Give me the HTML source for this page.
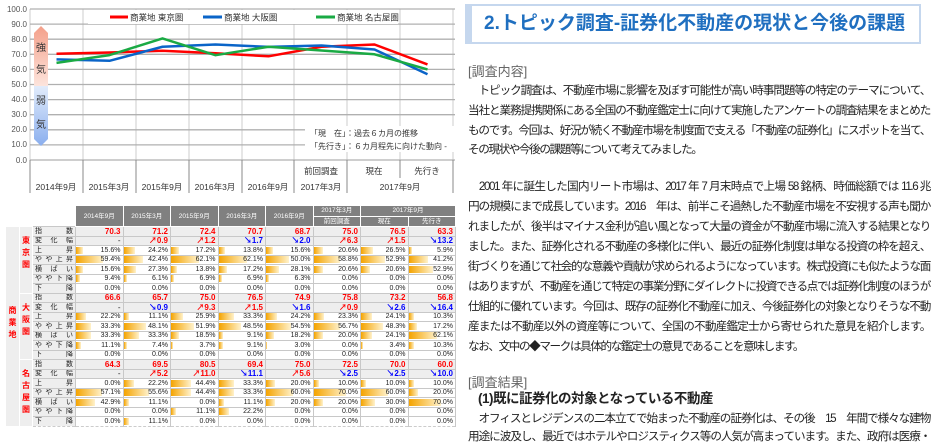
<!DOCTYPE html>
<html><head><meta charset="utf-8">
<style>
*{margin:0;padding:0;box-sizing:border-box}
body{width:940px;height:434px;overflow:hidden;background:#fff;position:relative;font-family:"Liberation Sans","Noto Sans CJK JP",sans-serif}
#chart{position:absolute;left:0;top:0}
table{position:absolute;left:5px;top:205px;width:450px;border-collapse:collapse;table-layout:fixed;font-size:7px;color:#222}
td{height:9.5px;border:1px solid #c8c8c8;padding:0 2px;text-align:right;line-height:7px;white-space:nowrap;overflow:hidden}
td.h{background:#808080;color:#fff;text-align:center;border:1px solid #fff;height:10.5px;font-size:6.5px}
td.g{background:#7a7a7a;color:#fff;text-align:center;border:1px solid #fff;font-size:10px;line-height:12px;font-weight:bold;white-space:normal;vertical-align:top;padding-top:4px}
td.l{text-align:justify;text-align-last:justify;font-size:7px;background:#eee;padding:0 2px}
tr.i td{background:#eee;color:#f00;font-weight:bold;font-size:8px}
tr.c td{background:#eee;font-weight:bold;font-size:8px}
tr.i td.l,tr.c td.l{color:#222;font-weight:normal;font-size:7px}
tr.p td{border-bottom:1px dashed #ccc}
td.b{background:linear-gradient(90deg,#f4a300,#fff2cc) no-repeat left center;background-size:var(--w) 7px}
.u{color:#f00}.d{color:#00f}
col.dc{width:47.5px}
.tx{position:absolute;left:468px;width:462px;font-size:11.6px;letter-spacing:-1.4px;color:#222;white-space:nowrap;line-height:14px}
.j{text-align:justify;text-align-last:justify}
</style></head><body>
<svg id="chart" width="460" height="200" font-family="Liberation Sans, Noto Sans CJK JP, sans-serif">
<defs>
<linearGradient id="pk" x1="0" y1="0" x2="0" y2="1"><stop offset="0" stop-color="#f4a08a"/><stop offset="1" stop-color="#fde4dc"/></linearGradient>
<linearGradient id="bl" x1="0" y1="0" x2="0" y2="1"><stop offset="0" stop-color="#e2ecfb"/><stop offset="1" stop-color="#8aaeee"/></linearGradient>
</defs>
<g stroke="#ddd" stroke-width="1.5">
<line x1="30" y1="9" x2="30" y2="160"/><line x1="83" y1="9" x2="83" y2="160"/><line x1="136" y1="9" x2="136" y2="160"/><line x1="189" y1="9" x2="189" y2="160"/><line x1="242" y1="9" x2="242" y2="160"/><line x1="294" y1="9" x2="294" y2="160"/><line x1="347" y1="9" x2="347" y2="160"/><line x1="400" y1="9" x2="400" y2="160"/><line x1="453" y1="9" x2="453" y2="160"/>
</g>
<g stroke="#b0b0b0" stroke-width="1.3">
<line x1="30" y1="9" x2="455" y2="9"/><line x1="30" y1="24.1" x2="455" y2="24.1"/><line x1="30" y1="39.2" x2="455" y2="39.2"/><line x1="30" y1="54.3" x2="455" y2="54.3"/><line x1="30" y1="69.4" x2="455" y2="69.4"/><line x1="30" y1="84.5" x2="455" y2="84.5"/><line x1="30" y1="99.6" x2="455" y2="99.6"/><line x1="30" y1="114.7" x2="455" y2="114.7"/><line x1="30" y1="129.8" x2="455" y2="129.8"/><line x1="30" y1="144.9" x2="455" y2="144.9"/><line x1="30" y1="160" x2="455" y2="160"/>
</g>
<g stroke="#888" stroke-width="1">
<line x1="30" y1="160" x2="30" y2="193"/><line x1="83" y1="160" x2="83" y2="193"/><line x1="136" y1="160" x2="136" y2="193"/><line x1="189" y1="160" x2="189" y2="193"/><line x1="242" y1="160" x2="242" y2="193"/><line x1="294" y1="160" x2="294" y2="193"/><line x1="347" y1="160" x2="347" y2="193"/><line x1="400" y1="160" x2="400" y2="178"/><line x1="453" y1="160" x2="453" y2="193"/>
</g>
<g font-size="8" fill="#555" text-anchor="end">
<text x="27" y="12">100.0</text><text x="27" y="27">90.0</text><text x="27" y="42">80.0</text><text x="27" y="57">70.0</text><text x="27" y="72">60.0</text><text x="27" y="87">50.0</text><text x="27" y="102">40.0</text><text x="27" y="117">30.0</text><text x="27" y="132">20.0</text><text x="27" y="147">10.0</text><text x="27" y="163">0.0</text>
</g>
<polygon points="34,33 41,26 48,33 48,86 34,86" fill="url(#pk)"/>
<polygon points="34,86 48,86 48,139 41,146 34,139" fill="url(#bl)"/>
<g font-size="10" fill="#333" text-anchor="middle"><text x="41" y="51">強</text><text x="41" y="73">気</text><text x="41" y="104">弱</text><text x="41" y="128">気</text></g>
<rect x="88" y="10" width="310" height="14" fill="#fff"/>
<line x1="110" y1="17" x2="128" y2="17" stroke="#f00" stroke-width="3"/>
<line x1="203" y1="17" x2="222" y2="17" stroke="#0a64c8" stroke-width="3"/>
<line x1="316" y1="17" x2="335" y2="17" stroke="#1aaa44" stroke-width="3"/>
<g font-size="8.5" fill="#333"><text x="130" y="20.5">商業地 東京圏</text><text x="224" y="20.5">商業地 大阪圏</text><text x="337" y="20.5">商業地 名古屋圏</text></g>
<rect x="305" y="126" width="150" height="26" fill="#fff"/>
<g font-size="8" fill="#333"><text x="310" y="136">「現　在」：過去６カ月の推移</text><text x="310" y="149">「先行き」：６カ月程先に向けた動向 -</text></g>
<g fill="none" stroke-width="2.5" stroke-linejoin="round">
<polyline stroke="#f00" points="56.5,53.8 109.5,52.5 162.5,50.7 215.5,53.2 268.5,56.3 321.5,46.75 374.5,44.5 427.5,64.4"/>
<polyline stroke="#0a64c8" points="56.5,59.4 109.5,60.8 162.5,46.75 215.5,44.5 268.5,46.9 321.5,45.5 374.5,49.5 427.5,74.2"/>
<polyline stroke="#1aaa44" points="56.5,62.9 109.5,55.1 162.5,38.4 215.5,55.2 268.5,46.75 321.5,50.5 374.5,54.3 427.5,69.4"/>
</g>
<g font-size="8.5" fill="#333" text-anchor="middle">
<text x="321" y="174">前回調査</text><text x="374" y="174">現在</text><text x="427" y="174">先行き</text>
<text x="56" y="190">2014年9月</text><text x="109" y="190">2015年3月</text><text x="162" y="190">2015年9月</text><text x="215" y="190">2016年3月</text><text x="268" y="190">2016年9月</text><text x="321" y="190">2017年3月</text><text x="400" y="190">2017年9月</text>
</g>
</svg>

<table>
<colgroup><col style="width:14px"><col style="width:13px"><col style="width:43px"><col class="dc"><col class="dc"><col class="dc"><col class="dc"><col class="dc"><col class="dc"><col class="dc"><col class="dc"></colgroup>
<tr><td colspan="3" rowspan="2" style="border:none;height:21px"></td><td class="h" rowspan="2">2014年9月</td><td class="h" rowspan="2">2015年3月</td><td class="h" rowspan="2">2015年9月</td><td class="h" rowspan="2">2016年3月</td><td class="h" rowspan="2">2016年9月</td><td class="h">2017年3月</td><td class="h" colspan="2">2017年9月</td></tr>
<tr><td class="h">前回調査</td><td class="h">現在</td><td class="h">先行き</td></tr>

<tr class="i"><td class="g" rowspan="21" style="padding-top:78px">商業地</td><td class="g" rowspan="7" style="padding-top:8px">東京圏</td><td class="l">指　数</td><td>70.3</td><td>71.2</td><td>72.4</td><td>70.7</td><td>68.7</td><td>75.0</td><td>76.5</td><td>63.3</td></tr>
<tr class="c"><td class="l">変化幅</td><td style="font-weight:normal">-</td><td class="u">↗0.9</td><td class="u">↗1.2</td><td class="d">↘1.7</td><td class="d">↘2.0</td><td class="u">↗6.3</td><td class="u">↗1.5</td><td class="d">↘13.2</td></tr>
<tr class="p"><td class="l">上　昇</td><td class="b" style="--w:7px">15.6%</td><td class="b" style="--w:11px">24.2%</td><td class="b" style="--w:8px">17.2%</td><td class="b" style="--w:6px">13.8%</td><td class="b" style="--w:7px">15.6%</td><td class="b" style="--w:9px">20.6%</td><td class="b" style="--w:12px">26.5%</td><td class="b" style="--w:3px">5.9%</td></tr>
<tr class="p"><td class="l">やや上昇</td><td class="b" style="--w:27px">59.4%</td><td class="b" style="--w:19px">42.4%</td><td class="b" style="--w:28px">62.1%</td><td class="b" style="--w:28px">62.1%</td><td class="b" style="--w:23px">50.0%</td><td class="b" style="--w:26px">58.8%</td><td class="b" style="--w:24px">52.9%</td><td class="b" style="--w:19px">41.2%</td></tr>
<tr class="p"><td class="l">横ばい</td><td class="b" style="--w:7px">15.6%</td><td class="b" style="--w:12px">27.3%</td><td class="b" style="--w:6px">13.8%</td><td class="b" style="--w:8px">17.2%</td><td class="b" style="--w:13px">28.1%</td><td class="b" style="--w:9px">20.6%</td><td class="b" style="--w:9px">20.6%</td><td class="b" style="--w:24px">52.9%</td></tr>
<tr class="p"><td class="l">やや下降</td><td class="b" style="--w:4px">9.4%</td><td class="b" style="--w:3px">6.1%</td><td class="b" style="--w:3px">6.9%</td><td class="b" style="--w:3px">6.9%</td><td class="b" style="--w:3px">6.3%</td><td>0.0%</td><td>0.0%</td><td>0.0%</td></tr>
<tr class="p"><td class="l">下　降</td><td>0.0%</td><td>0.0%</td><td>0.0%</td><td>0.0%</td><td>0.0%</td><td>0.0%</td><td>0.0%</td><td>0.0%</td></tr>

<tr class="i"><td class="g" rowspan="7" style="padding-top:8px">大阪圏</td><td class="l">指　数</td><td>66.6</td><td>65.7</td><td>75.0</td><td>76.5</td><td>74.9</td><td>75.8</td><td>73.2</td><td>56.8</td></tr>
<tr class="c"><td class="l">変化幅</td><td style="font-weight:normal">-</td><td class="d">↘0.9</td><td class="u">↗9.3</td><td class="u">↗1.5</td><td class="d">↘1.6</td><td class="u">↗0.9</td><td class="d">↘2.6</td><td class="d">↘16.4</td></tr>
<tr class="p"><td class="l">上　昇</td><td class="b" style="--w:10px">22.2%</td><td class="b" style="--w:5px">11.1%</td><td class="b" style="--w:12px">25.9%</td><td class="b" style="--w:15px">33.3%</td><td class="b" style="--w:11px">24.2%</td><td class="b" style="--w:10px">23.3%</td><td class="b" style="--w:11px">24.1%</td><td class="b" style="--w:5px">10.3%</td></tr>
<tr class="p"><td class="l">やや上昇</td><td class="b" style="--w:15px">33.3%</td><td class="b" style="--w:22px">48.1%</td><td class="b" style="--w:23px">51.9%</td><td class="b" style="--w:22px">48.5%</td><td class="b" style="--w:25px">54.5%</td><td class="b" style="--w:26px">56.7%</td><td class="b" style="--w:22px">48.3%</td><td class="b" style="--w:8px">17.2%</td></tr>
<tr class="p"><td class="l">横ばい</td><td class="b" style="--w:15px">33.3%</td><td class="b" style="--w:15px">33.3%</td><td class="b" style="--w:8px">18.5%</td><td class="b" style="--w:4px">9.1%</td><td class="b" style="--w:8px">18.2%</td><td class="b" style="--w:9px">20.0%</td><td class="b" style="--w:11px">24.1%</td><td class="b" style="--w:28px">62.1%</td></tr>
<tr class="p"><td class="l">やや下降</td><td class="b" style="--w:5px">11.1%</td><td class="b" style="--w:3px">7.4%</td><td class="b" style="--w:2px">3.7%</td><td class="b" style="--w:4px">9.1%</td><td class="b" style="--w:1px">3.0%</td><td>0.0%</td><td class="b" style="--w:2px">3.4%</td><td class="b" style="--w:5px">10.3%</td></tr>
<tr class="p"><td class="l">下　降</td><td>0.0%</td><td>0.0%</td><td>0.0%</td><td>0.0%</td><td>0.0%</td><td>0.0%</td><td>0.0%</td><td>0.0%</td></tr>

<tr class="i"><td class="g" rowspan="7" style="padding-top:8px">名古屋圏</td><td class="l">指　数</td><td>64.3</td><td>69.5</td><td>80.5</td><td>69.4</td><td>75.0</td><td>72.5</td><td>70.0</td><td>60.0</td></tr>
<tr class="c"><td class="l">変化幅</td><td style="font-weight:normal">-</td><td class="u">↗5.2</td><td class="u">↗11.0</td><td class="d">↘11.1</td><td class="u">↗5.6</td><td class="d">↘2.5</td><td class="d">↘2.5</td><td class="d">↘10.0</td></tr>
<tr class="p"><td class="l">上　昇</td><td>0.0%</td><td class="b" style="--w:10px">22.2%</td><td class="b" style="--w:20px">44.4%</td><td class="b" style="--w:15px">33.3%</td><td class="b" style="--w:9px">20.0%</td><td class="b" style="--w:5px">10.0%</td><td class="b" style="--w:5px">10.0%</td><td class="b" style="--w:5px">10.0%</td></tr>
<tr class="p"><td class="l">やや上昇</td><td class="b" style="--w:26px">57.1%</td><td class="b" style="--w:25px">55.6%</td><td class="b" style="--w:20px">44.4%</td><td class="b" style="--w:15px">33.3%</td><td class="b" style="--w:27px">60.0%</td><td class="b" style="--w:32px">70.0%</td><td class="b" style="--w:27px">60.0%</td><td class="b" style="--w:9px">20.0%</td></tr>
<tr class="p"><td class="l">横ばい</td><td class="b" style="--w:19px">42.9%</td><td class="b" style="--w:5px">11.1%</td><td>0.0%</td><td class="b" style="--w:5px">11.1%</td><td class="b" style="--w:9px">20.0%</td><td class="b" style="--w:9px">20.0%</td><td class="b" style="--w:14px">30.0%</td><td class="b" style="--w:32px">70.0%</td></tr>
<tr class="p"><td class="l">やや下降</td><td>0.0%</td><td>0.0%</td><td class="b" style="--w:5px">11.1%</td><td class="b" style="--w:10px">22.2%</td><td>0.0%</td><td>0.0%</td><td>0.0%</td><td>0.0%</td></tr>
<tr class="p"><td class="l">下　降</td><td>0.0%</td><td class="b" style="--w:5px">11.1%</td><td>0.0%</td><td>0.0%</td><td>0.0%</td><td>0.0%</td><td>0.0%</td><td>0.0%</td></tr>
</table>

<div style="position:absolute;left:465px;top:4px;width:456px;height:40px;border:2px solid #c5d7ee;border-left:7px solid #c5d7ee;background:#fff"></div>
<div style="position:absolute;left:484px;top:11px;font-size:19px;font-weight:bold;color:#1f6fc0;white-space:nowrap;line-height:26px">2.トピック調査-証券化不動産の現状と今後の課題</div>

<div class="tx" style="top:65px;color:#666;font-size:13px;letter-spacing:0">[調査内容]</div>
<div class="tx j" style="top:84px">　トピック調査は、不動産市場に影響を及ぼす可能性が高い時事問題等の特定のテーマについて、</div>
<div class="tx j" style="top:104px">当社と業務提携関係にある全国の不動産鑑定士に向けて実施したアンケートの調査結果をまとめた</div>
<div class="tx j" style="top:124px">ものです。今回は、好況が続く不動産市場を制度面で支える「不動産の証券化」にスポットを当て、</div>
<div class="tx" style="top:143px">その現状や今後の課題等について考えてみました。</div>

<div class="tx j" style="top:180px">　2001 年に誕生した国内リート市場は、2017 年 7 月末時点で上場 58 銘柄、時価総額では 11.6 兆</div>
<div class="tx j" style="top:200px">円の規模にまで成長しています。2016　年は、前半こそ過熱した不動産市場を不安視する声も聞か</div>
<div class="tx j" style="top:220px">れましたが、後半はマイナス金利が追い風となって大量の資金が不動産市場に流入する結果となり</div>
<div class="tx j" style="top:240px">ました。また、証券化される不動産の多様化に伴い、最近の証券化制度は単なる投資の枠を超え、</div>
<div class="tx j" style="top:260px">街づくりを通じて社会的な意義や貢献が求められるようになっています。株式投資にも似たような面</div>
<div class="tx j" style="top:280px">はありますが、不動産を通じて特定の事業分野にダイレクトに投資できる点では証券化制度のほうが</div>
<div class="tx j" style="top:300px">仕組的に優れています。今回は、既存の証券化不動産に加え、今後証券化の対象となりそうな不動</div>
<div class="tx j" style="top:320px">産または不動産以外の資産等について、全国の不動産鑑定士から寄せられた意見を紹介します。</div>
<div class="tx" style="top:340px">なお、文中の◆マークは具体的な鑑定士の意見であることを意味します。</div>

<div class="tx" style="top:376px;color:#666;font-size:13px;letter-spacing:0">[調査結果]</div>
<div class="tx" style="top:392px;left:478px;font-weight:bold;font-size:13.5px;letter-spacing:-0.5px">(1)既に証券化の対象となっている不動産</div>
<div class="tx j" style="top:412px">　オフィスとレジデンスの二本立てで始まった不動産の証券化は、その後　15　年間で様々な建物</div>
<div class="tx j" style="top:430px">用途に波及し、最近ではホテルやロジスティクス等の人気が高まっています。また、政府は医療・</div>
</body></html>
